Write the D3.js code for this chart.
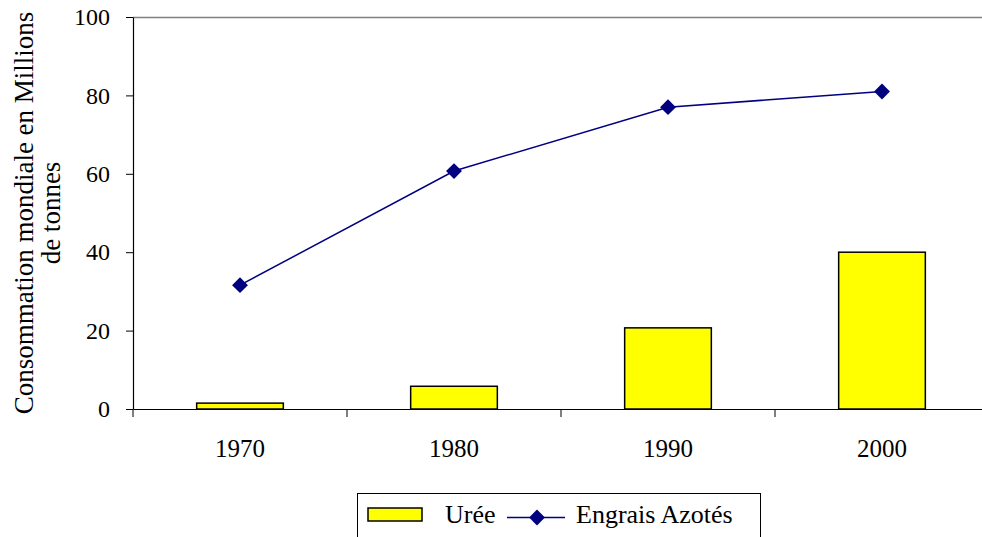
<!DOCTYPE html>
<html>
<head>
<meta charset="utf-8">
<script src="https://cdn.jsdelivr.net/npm/d3@7"></script>
<style>
  body { margin: 0; background: #fff; }
</style>
</head>
<body>
<div id="chart"></div>
<script>
// data
var years = ["1970", "1980", "1990", "2000"];
var uree = [1.5, 5.8, 20.7, 40];
var engrais = [31.6, 60.7, 77, 81];
var yTicks = [0, 20, 40, 60, 80, 100];

var FONT = "Liberation Serif, DejaVu Serif, serif";

var margin = {top: 17, right: -7, bottom: 128, left: 133};
var W = 982, H = 537;
var width = W - margin.left - margin.right;
var height = H - margin.top - margin.bottom;

var svg = d3.select("#chart").append("svg")
    .attr("width", W)
    .attr("height", H)
    .attr("font-family", FONT)
    .attr("font-size", 25);

var g = svg.append("g")
    .attr("transform", "translate(" + margin.left + "," + margin.top + ")");

var x = d3.scaleBand()
    .domain(years)
    .range([0, width])
    .paddingInner(0.595)
    .paddingOuter(0.2975);

var xc = d3.scaleBand().domain(years).range([0, width]); // category slots for ticks

var y = d3.scaleLinear()
    .domain([0, 100])
    .range([height, 0]);

// top border of plot area
g.append("line")
    .attr("x1", 0).attr("x2", width)
    .attr("y1", 0.5).attr("y2", 0.5)
    .attr("stroke", "#808080")
    .attr("stroke-width", 1.5);

// bars
g.selectAll("rect.bar")
    .data(uree)
    .enter()
    .append("rect")
        .attr("class", "bar")
        .attr("x", function(d, i) { return x(years[i]); })
        .attr("y", function(d) { return y(d); })
        .attr("width", x.bandwidth())
        .attr("height", function(d) { return height - y(d); })
        .attr("fill", "#ffff00")
        .attr("stroke", "#000")
        .attr("stroke-width", 1.5);

// y axis
var yAxis = g.append("g")
    .call(d3.axisLeft(y).tickValues(yTicks).tickSize(7).tickSizeOuter(0).tickPadding(16));
yAxis.attr("font-family", FONT).attr("font-size", 24);
yAxis.select(".domain").attr("stroke", "#000").attr("stroke-width", 1.2);
yAxis.selectAll(".tick line").attr("stroke", "#000");
yAxis.selectAll("text").attr("fill", "#000");

// x axis
var xAxis = g.append("g")
    .attr("transform", "translate(0," + height + ")")
    .call(d3.axisBottom(xc).tickSize(0).tickSizeOuter(0).tickPadding(30));
xAxis.attr("font-family", FONT).attr("font-size", 25);
xAxis.select(".domain").attr("stroke", "#000").attr("stroke-width", 1.2);
xAxis.selectAll("text").attr("fill", "#000");

// category separators
g.selectAll("line.sep")
    .data(years)
    .enter()
    .append("line")
        .attr("class", "sep")
        .attr("x1", function(d) { return xc(d); })
        .attr("x2", function(d) { return xc(d); })
        .attr("y1", height)
        .attr("y2", height + 8)
        .attr("stroke", "#000");

// line series
var line = d3.line()
    .x(function(d, i) { return xc(years[i]) + xc.bandwidth() / 2; })
    .y(function(d) { return y(d); });

g.append("path")
    .datum(engrais)
    .attr("d", line)
    .attr("fill", "none")
    .attr("stroke", "#000080")
    .attr("stroke-width", 1.5);

var diamond = d3.symbol().type(d3.symbolDiamond2).size(160);
g.selectAll("path.pt")
    .data(engrais)
    .enter()
    .append("path")
        .attr("class", "pt")
        .attr("d", diamond)
        .attr("transform", function(d, i) {
            return "translate(" + (xc(years[i]) + xc.bandwidth() / 2) + "," + y(d) + ")";
        })
        .attr("fill", "#000080");

// y title
var yt = svg.append("text")
    .attr("transform", "translate(33," + (margin.top + height / 2) + ") rotate(-90)")
    .attr("text-anchor", "middle")
    .attr("font-size", 27)
    .attr("fill", "#000");
yt.append("tspan").attr("x", 0).attr("dy", 0).text("Consommation mondiale en Millions");
yt.append("tspan").attr("x", 0).attr("dy", 27).text("de tonnes");

// legend
var lg = svg.append("g").attr("transform", "translate(357,493)").attr("font-size", 26);
lg.append("rect")
    .attr("x", 0.5).attr("y", 0.5)
    .attr("width", 403).attr("height", 60)
    .attr("fill", "#fff")
    .attr("stroke", "#000")
    .attr("stroke-width", 1);
lg.append("rect")
    .attr("x", 11).attr("y", 15)
    .attr("width", 54).attr("height", 13)
    .attr("fill", "#ffff00")
    .attr("stroke", "#000")
    .attr("stroke-width", 1.5);
lg.append("text")
    .attr("x", 88).attr("y", 30)
    .text("Urée");
lg.append("line")
    .attr("x1", 150).attr("x2", 208)
    .attr("y1", 24.5).attr("y2", 24.5)
    .attr("stroke", "#000080")
    .attr("stroke-width", 1.5);
lg.append("path")
    .attr("d", diamond)
    .attr("transform", "translate(180,24.5)")
    .attr("fill", "#000080");
lg.append("text")
    .attr("x", 219).attr("y", 30)
    .text("Engrais Azotés");
</script>
</body>
</html>
